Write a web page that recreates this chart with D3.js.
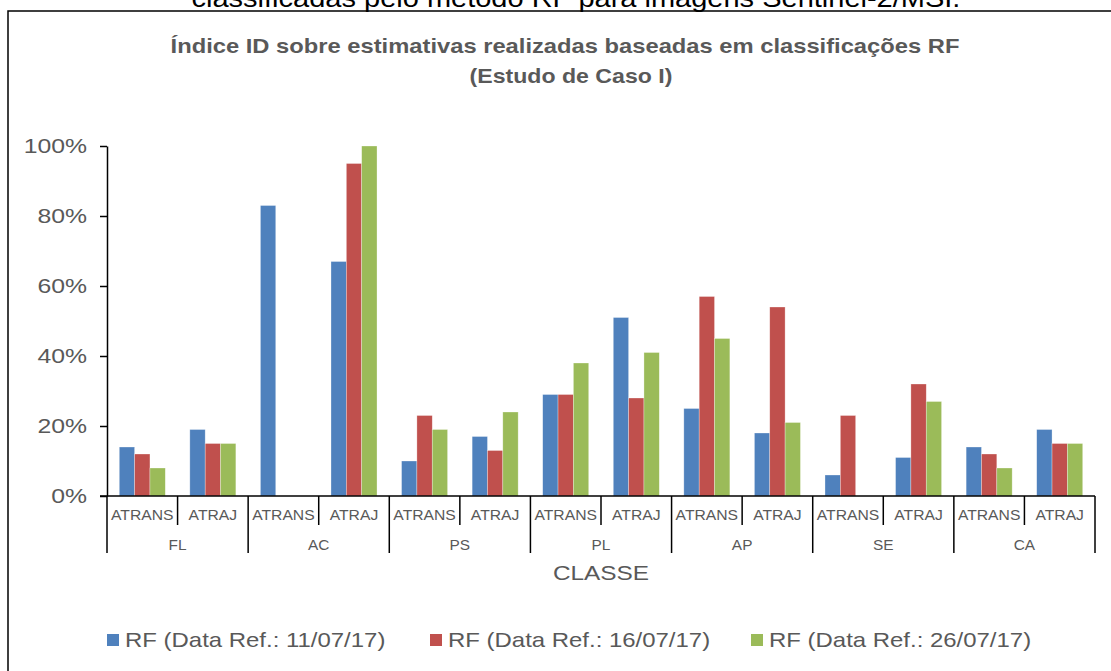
<!DOCTYPE html>
<html>
<head>
<meta charset="utf-8">
<script src="https://cdn.jsdelivr.net/npm/d3@7.9.0/dist/d3.min.js"></script>
<style>
  body { margin: 0; background: #fff; }
  svg { display: block; font-family: "Liberation Sans", Arial, sans-serif; }
</style>
</head>
<body>
<div id="chart"></div>
<script>
// classes and sub-categories on the x axis
const classes = ["FL", "AC", "PS", "PL", "AP", "SE", "CA"];
const subTypes = ["ATRANS", "ATRAJ"];

// series (values in %)
const seriesNames = [
  "RF (Data Ref.: 11/07/17)",
  "RF (Data Ref.: 16/07/17)",
  "RF (Data Ref.: 26/07/17)"
];
const rf110717 = [14, 19, 83, 67, 10, 17, 29, 51, 25, 18, 6, 11, 14, 19];
const rf160717 = [12, 15, 0, 95, 23, 13, 29, 28, 57, 54, 23, 32, 12, 15];
const rf260717 = [8, 15, 0, 100, 19, 24, 38, 41, 45, 21, 0, 27, 8, 15];
const yTicks = [0, 20, 40, 60, 80, 100];

const colors = ["#4F81BD", "#C0504D", "#9BBB59"];
const width = 1111;
const height = 671;
const textColor = "#595959";

const margin = { top: 146, right: 16, bottom: 175, left: 107 };
const plotRight = width - margin.right;
const plotBottom = height - margin.bottom;

// the source picture is a bit wider than tall, so its texts look stretched
function stretch(sel, k) {
  sel.each(function () {
    const w = this.getComputedTextLength();
    d3.select(this).attr("textLength", w * k).attr("lengthAdjust", "spacingAndGlyphs");
  });
}

const svg = d3.select("#chart")
  .append("svg")
  .attr("width", width)
  .attr("height", height);

// outer frame (cut by the page edge, as in the source)
svg.append("rect")
  .attr("x", 8).attr("y", 11)
  .attr("width", width + 20).attr("height", height + 20)
  .attr("fill", "none")
  .attr("stroke", "#000")
  .attr("stroke-width", 1.5);

// caption of the document, cut at the top
svg.append("text")
  .attr("x", 576).attr("y", 7)
  .attr("text-anchor", "middle")
  .style("font-size", "25px")
  .attr("fill", "#000")
  .text("classificadas pelo método RF para imagens Sentinel-2/MSI.")
  .call(stretch, 1.16);

// chart title
svg.append("text")
  .attr("x", 565).attr("y", 53)
  .attr("text-anchor", "middle")
  .attr("fill", textColor)
  .style("font-size", "21px")
  .style("font-weight", "bold")
  .text("Índice ID sobre estimativas realizadas baseadas em classificações RF")
  .call(stretch, 1.13);
svg.append("text")
  .attr("x", 571).attr("y", 83)
  .attr("text-anchor", "middle")
  .attr("fill", textColor)
  .style("font-size", "21px")
  .style("font-weight", "bold")
  .text("(Estudo de Caso I)")
  .call(stretch, 1.1);

// build rows: one per class/sub-type pair
const rows = [];
classes.forEach((c, i) => {
  subTypes.forEach((t, j) => {
    const k = i * 2 + j;
    rows.push({ key: c + "-" + t, cls: c, type: t, values: [rf110717[k], rf160717[k], rf260717[k]] });
  });
});

const x0 = d3.scaleBand()
  .domain(rows.map(d => d.key))
  .range([margin.left, plotRight])
  .padding(0);

const x1 = d3.scaleBand()
  .domain([0, 1, 2])
  .range([0, x0.bandwidth()])
  .paddingInner(0)
  .paddingOuter(0.8);

const y = d3.scaleLinear()
  .domain([0, 100])
  .range([plotBottom, margin.top]);

// bars
const groups = svg.append("g")
  .selectAll("g")
  .data(rows)
  .join("g")
  .attr("transform", d => `translate(${x0(d.key)},0)`);

groups.selectAll("rect")
  .data(d => d.values.map((v, s) => ({ v, s })))
  .join("rect")
  .attr("x", d => x1(d.s))
  .attr("y", d => y(d.v))
  .attr("width", x1.bandwidth())
  .attr("height", d => y(0) - y(d.v))
  .attr("fill", d => colors[d.s])
  .attr("stroke", "#fff")
  .attr("stroke-opacity", 0.5)
  .attr("stroke-width", 0.6);

// y axis
const yAxis = svg.append("g")
  .attr("transform", `translate(${margin.left},0)`)
  .call(d3.axisLeft(y).tickValues(yTicks).tickSize(7).tickSizeOuter(0).tickPadding(13)
    .tickFormat(d => d + "%"));
yAxis.select(".domain").attr("stroke", "#000").attr("stroke-width", 1.5);
yAxis.selectAll(".tick line").attr("stroke", "#000").attr("stroke-width", 1.5);
yAxis.selectAll("text")
  .attr("fill", textColor)
  .style("font-size", "21px")
  .style("font-family", "Liberation Sans, Arial, sans-serif")
  .call(stretch, 1.18);

// x axis baseline
svg.append("line")
  .attr("x1", margin.left - 7).attr("x2", plotRight)
  .attr("y1", plotBottom).attr("y2", plotBottom)
  .attr("stroke", "#000").attr("stroke-width", 1.5);

// separators between sub-categories and classes
const xAxisG = svg.append("g");
rows.forEach((d, k) => {
  const xl = x0(d.key);
  const isGroupEdge = k % 2 === 0;
  xAxisG.append("line")
    .attr("x1", xl).attr("x2", xl)
    .attr("y1", plotBottom).attr("y2", isGroupEdge ? 553 : 525)
    .attr("stroke", "#000").attr("stroke-width", 1.5);
});
xAxisG.append("line")
  .attr("x1", plotRight).attr("x2", plotRight)
  .attr("y1", plotBottom).attr("y2", 553)
  .attr("stroke", "#000").attr("stroke-width", 1.5);

// sub-category labels
xAxisG.selectAll("text.sub")
  .data(rows)
  .join("text")
  .attr("class", "sub")
  .attr("x", d => x0(d.key) + x0.bandwidth() / 2)
  .attr("y", 520)
  .attr("text-anchor", "middle")
  .attr("fill", textColor)
  .style("font-size", "14px")
  .text(d => d.type)
  .call(stretch, 1.12);

// class labels
xAxisG.selectAll("text.cls")
  .data(classes)
  .join("text")
  .attr("class", "cls")
  .attr("x", c => x0(c + "-ATRANS") + x0.bandwidth())
  .attr("y", 550)
  .attr("text-anchor", "middle")
  .attr("fill", textColor)
  .style("font-size", "14px")
  .text(c => c)
  .call(stretch, 1.1);

// axis title
svg.append("text")
  .attr("x", (margin.left + plotRight) / 2)
  .attr("y", 580)
  .attr("text-anchor", "middle")
  .attr("fill", textColor)
  .style("font-size", "21px")
  .text("CLASSE")
  .call(stretch, 1.16);

// legend
const legendX = [107, 430, 751];
const legend = svg.append("g")
  .selectAll("g")
  .data(seriesNames)
  .join("g")
  .attr("transform", (d, i) => `translate(${legendX[i]},634)`);

legend.append("rect")
  .attr("width", 12).attr("height", 12)
  .attr("fill", (d, i) => colors[i]);

legend.append("text")
  .attr("x", 18).attr("y", 13)
  .attr("fill", textColor)
  .style("font-size", "21px")
  .text(d => d)
  .call(stretch, 1.14);
</script>
</body>
</html>
